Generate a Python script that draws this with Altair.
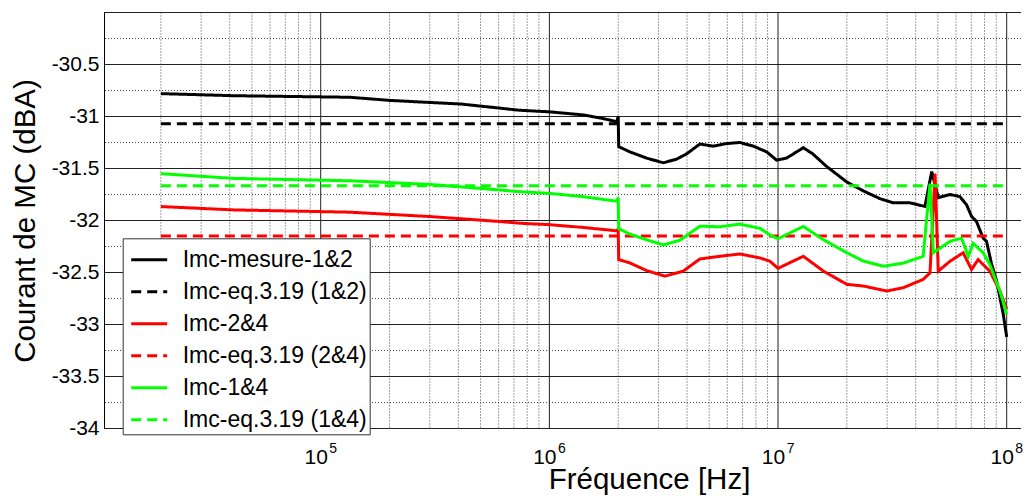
import altair as alt
import pandas as pd

# ---- data ----
black_f = [2.0e4, 4.15e4, 1.34e5, 2.0e5, 3.0e5, 4.1e5, 6.1e5, 7.4e5, 1.0e6, 1.41e6, 1.72e6, 1.97e6,
           2.0e6, 2.01e6, 2.25e6, 2.66e6, 3.15e6, 3.6e6, 3.98e6, 4.55e6, 5.21e6, 5.96e6, 6.81e6,
           7.79e6, 8.92e6, 9.86e6, 1.09e7, 1.29e7, 1.42e7, 1.63e7, 2.0e7, 2.36e7, 2.79e7, 3.19e7,
           3.77e7, 4.39e7, 4.70e7, 5.02e7, 5.65e7, 6.24e7, 6.68e7, 7.02e7, 7.38e7, 7.89e7, 8.16e7,
           8.59e7, 9.03e7, 9.66e7, 1.0e8]
black_v = [-30.78, -30.80, -30.815, -30.845, -30.865, -30.88, -30.92, -30.94, -30.955, -30.985, -31.02, -31.05,
           -31.0, -31.29, -31.34, -31.40, -31.445, -31.41, -31.36, -31.265, -31.285, -31.26, -31.25,
           -31.285, -31.34, -31.42, -31.40, -31.30, -31.36, -31.48, -31.63, -31.715, -31.79, -31.83,
           -31.83, -31.865, -31.53, -31.78, -31.75, -31.77, -31.85, -31.96, -32.01, -32.17, -32.20,
           -32.42, -32.58, -32.90, -33.12]

red_f = [2.0e4, 4.15e4, 1.34e5, 3.0e5, 6.1e5, 7.4e5, 1.0e6, 1.41e6, 1.97e6, 2.0e6, 2.01e6, 2.25e6,
         2.66e6, 3.2e6, 3.85e6, 4.55e6, 5.57e6, 6.81e6, 8.34e6, 9.22e6, 1.0e7, 1.29e7, 1.58e7, 2.0e7,
         2.36e7, 2.99e7, 3.53e7, 4.31e7, 4.62e7, 4.86e7, 5.02e7, 5.65e7, 6.45e7, 7.02e7, 7.50e7,
         8.44e7, 9.34e7, 1.0e8]
red_v = [-31.866, -31.898, -31.92, -31.962, -32.01, -32.026, -32.04, -32.067, -32.099, -32.08, -32.376, -32.408,
         -32.481, -32.535, -32.487, -32.37, -32.344, -32.322, -32.36, -32.392, -32.46, -32.344, -32.487, -32.614,
         -32.63, -32.678, -32.646, -32.567, -32.504, -31.548, -32.487, -32.392, -32.31, -32.471, -32.376,
         -32.487, -32.678, -32.853]

green_f = [2.0e4, 4.15e4, 1.34e5, 3.0e5, 6.1e5, 7.4e5, 1.0e6, 1.41e6, 1.97e6, 2.0e6, 2.01e6, 2.25e6,
           2.66e6, 3.15e6, 3.72e6, 4.55e6, 5.57e6, 6.81e6, 8.34e6, 9.22e6, 1.0e7, 1.29e7, 1.58e7, 2.0e7,
           2.36e7, 2.89e7, 3.53e7, 4.31e7, 4.62e7, 4.78e7, 5.65e7, 6.35e7, 6.79e7, 7.14e7, 7.89e7,
           8.44e7, 9.34e7, 1.0e8]
green_v = [-31.55, -31.595, -31.618, -31.653, -31.707, -31.723, -31.739, -31.771, -31.815, -31.78, -32.08, -32.13,
           -32.185, -32.235, -32.19, -32.055, -32.06, -32.035, -32.075, -32.14, -32.175, -32.057, -32.185, -32.31,
           -32.39, -32.44, -32.41, -32.345, -31.645, -32.31, -32.20, -32.17, -32.345, -32.22, -32.31,
           -32.424, -32.678, -32.90]

eq_f = [2.0e4, 1.0e8]
eq_12 = -31.07
eq_24 = -32.15
eq_14 = -31.665

series_names = ["Imc-mesure-1&2", "Imc-eq.3.19 (1&2)", "Imc-2&4", "Imc-eq.3.19 (2&4)",
                "Imc-1&4", "Imc-eq.3.19 (1&4)"]
series_colors = ["#000000", "#000000", "#ff0000", "#ff0000", "#00ff00", "#00ff00"]
series_dash = [[1, 0], [10, 6], [1, 0], [10, 6], [1, 0], [10, 6]]

x_major = [1e5, 1e6, 1e7, 1e8]
x_major_base = ["10", "10", "10", "10"]
x_major_exp = ["5", "6", "7", "8"]
x_minor = [m * d for d in [1e4, 1e5, 1e6, 1e7] for m in range(2, 10)]
y_major = [-34, -33.5, -33, -32.5, -32, -31.5, -31, -30.5, -30]
y_ticks = [-34, -33.5, -33, -32.5, -32, -31.5, -31, -30.5]
y_minor = [-33.75, -33.25, -32.75, -32.25, -31.75, -31.25, -30.75, -30.25]

X_DOMAIN = [1.128e4, 1.155e8]
Y_DOMAIN = [-34, -30]

# ---- build table ----
rows = []
def add(name, fs, vs):
    for f, v in zip(fs, vs):
        rows.append({"f": f, "v": v, "series": name})

add(series_names[0], black_f, black_v)
add(series_names[1], eq_f, [eq_12] * len(eq_f))
add(series_names[2], red_f, red_v)
add(series_names[3], eq_f, [eq_24] * len(eq_f))
add(series_names[4], green_f, green_v)
add(series_names[5], eq_f, [eq_14] * len(eq_f))
df = pd.DataFrame(rows)
df["order"] = range(len(df))

FONT = "Liberation Sans"
xs = alt.Scale(type="log", domain=X_DOMAIN, nice=False)
ys = alt.Scale(domain=Y_DOMAIN, nice=False, zero=False)

label_expr = "[" + ",".join("'%s'" % s for s in x_major_base) + "][indexof([" + \
    ",".join(str(int(v)) for v in x_major) + "], datum.value)]"

x_axis = alt.Axis(
    values=x_major, labelExpr=label_expr, grid=False, ticks=False, tickSize=0,
    domain=False, labelFont=FONT, labelFontSize=21, labelColor="black",
    labelPadding=35, labelBaseline="alphabetic", labelFlush=False, labelOffset=-5,
    title="Fréquence [Hz]", titleFont=FONT, titleFontSize=29.5, titleFontWeight="normal",
    titleColor="black", titleX=545, titleY=60, titleAlign="center",
    titleBaseline="alphabetic")
y_axis = alt.Axis(
    values=y_ticks, labelExpr="'' + datum.value", grid=False, ticks=False, tickSize=0,
    domain=True, domainColor="black", domainWidth=1,
    labelFont=FONT, labelFontSize=21, labelColor="black", labelPadding=5,
    title="Courant de MC (dBA)", titleFont=FONT, titleFontSize=29.5, titleFontWeight="normal",
    titleColor="black", titleAngle=270, titleX=-70, titleY=208, titleAlign="center",
    titleBaseline="alphabetic")

minor_x_layer = alt.Chart(pd.DataFrame({"f": x_minor})).mark_rule(
    color="#444", strokeDash=[1, 2], strokeWidth=1
).encode(x=alt.X("f:Q", scale=xs, axis=x_axis))
minor_y_layer = alt.Chart(pd.DataFrame({"v": y_minor})).mark_rule(
    color="#444", strokeDash=[1, 2], strokeWidth=1
).encode(y=alt.Y("v:Q", scale=ys, axis=y_axis))
major_x_layer = alt.Chart(pd.DataFrame({"f": x_major})).mark_rule(
    color="#222", strokeWidth=1
).encode(x=alt.X("f:Q", scale=xs, axis=x_axis))
major_y_layer = alt.Chart(pd.DataFrame({"v": y_major})).mark_rule(
    color="#222", strokeWidth=1
).encode(y=alt.Y("v:Q", scale=ys, axis=y_axis))

# exponents of the decade labels (superscript)
exp_layer = alt.Chart(pd.DataFrame({"f": x_major, "e": x_major_exp})).mark_text(
    font=FONT, fontSize=14, color="black", align="center", baseline="alphabetic", dx=12.5
).encode(x=alt.X("f:Q", scale=xs, axis=x_axis), y=alt.value(440.5), text="e:N")

leg = alt.Legend(
    orient="none", legendX=18.7, legendY=225.8, title=None,
    symbolType="stroke", symbolSize=1296, symbolStrokeWidth=3, symbolOffset=5,
    labelFont=FONT, labelFontSize=23, labelColor="black", labelOffset=14,
    labelLimit=500, rowPadding=-7, padding=2,
    fillColor="white", strokeColor="#333", symbolOpacity=1,
)

lines = alt.Chart(df).mark_line(strokeWidth=3, clip=True).encode(
    x=alt.X("f:Q", scale=xs, axis=x_axis),
    y=alt.Y("v:Q", scale=ys, axis=y_axis),
    color=alt.Color("series:N", scale=alt.Scale(domain=series_names, range=series_colors), legend=leg),
    strokeDash=alt.StrokeDash("series:N", scale=alt.Scale(domain=series_names, range=series_dash), legend=leg),
    order=alt.Order("order:Q"),
)

chart = alt.layer(
    minor_x_layer, minor_y_layer, major_x_layer, major_y_layer, lines, exp_layer
).properties(
    width=917, height=416,
    autosize=alt.AutoSizeParams(type="none"),
    padding={"left": 96, "top": 4.5, "right": 4, "bottom": 68.5},
    background="white",
).configure(font=FONT).configure_view(stroke=None)

chart.save("out.html", embed_options={"renderer": "svg", "actions": False})
